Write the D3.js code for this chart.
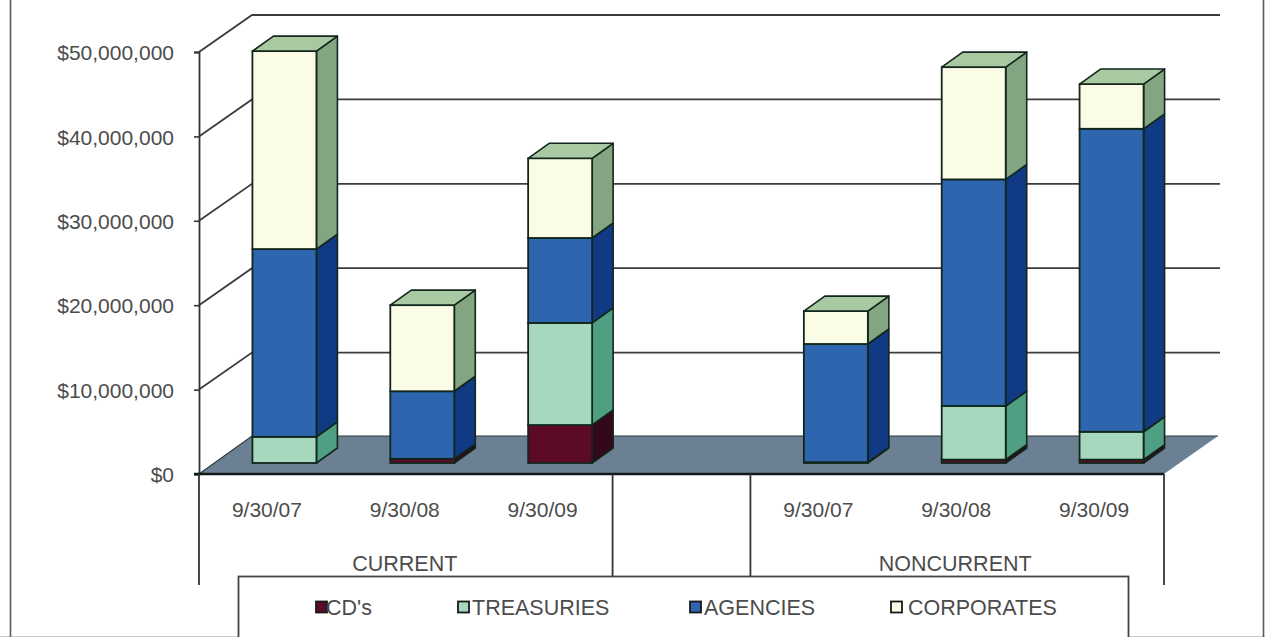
<!DOCTYPE html>
<html>
<head>
<meta charset="utf-8">
<script src="https://cdn.jsdelivr.net/npm/d3@7/dist/d3.min.js"></script>
<style>
  html, body { margin: 0; padding: 0; background: #fff; }
  svg { display: block; }
  text { font-family: "Liberation Sans", Arial, sans-serif; fill: #4c4c4c; }
</style>
</head>
<body>
<svg id="chart" width="1265" height="637"></svg>
<script>
// Holdings in dollars, stacked bottom to top within each group and date.
const groups = ["CURRENT", "NONCURRENT"];
const dates = ["9/30/07", "9/30/08", "9/30/09"];
const seriesNames = ["CD's", "TREASURIES", "AGENCIES", "CORPORATES"];
const cds        = [0,        500000,  4500000,  100000,   400000,   400000];
const treasuries = [3100000,  0,       12100000, 0,        6350000,  3300000];
const agencies   = [22250000, 8000000, 10060000, 14000000, 26850000, 35900000];
const corporates = [23450000, 10200000, 9440000, 3900000,  13300000, 5300000];
const yTicks = [0, 10000000, 20000000, 30000000, 40000000, 50000000];

const frontColors = ["#5c0a26", "#a6d8bd", "#2d66ae", "#fbfce6"];
const sideColors  = ["#33081a", "#4f9f82", "#113a84", "#84a581"];
const topColors   = ["#3c0a1c", "#7fbf9f", "#1f4f98", "#a9c9a3"];
const floorColor = "#6b8092";
const ink = "#12261c";

const svg = d3.select("#chart");

// Plot frame: front plane of the 3-D box and the shift to its back wall.
const plotLeft = 199, plotRight = 1164, plotTop = 52, plotBottom = 474;
const depthX = 53, gridDepthY = 37, floorDepthY = 38;
const barDepthX = 21, barDepthY = 15;
const barShiftX = 16.5, barShiftY = 11, barWidth = 64;

const y = d3.scaleLinear().domain([0, 50000000]).range([plotBottom, plotTop]);
const slots = d3.range(7);
const x = d3.scaleBand().domain(slots).range([plotLeft, plotRight]);

// Outer page rules
svg.append("path").attr("d", "M0,636.5H1265").attr("stroke", "#ccc").attr("stroke-width", 1);
svg.append("path").attr("d", "M10.5,0V637M1263.5,0V637")
  .attr("fill", "none").attr("stroke", "#5a5a5a").attr("stroke-width", 1.6);

// Back wall gridlines and their slanted side-wall segments
const grid = svg.append("g").attr("fill", "none").attr("stroke", "#3c3c3c").attr("stroke-width", 1.8);
grid.selectAll("path").data(yTicks.slice(1)).join("path")
  .attr("d", d => `M${plotLeft},${y(d)}L${plotLeft + depthX},${y(d) - gridDepthY}H${plotRight + 56}`);

// Floor
svg.append("path")
  .attr("d", `M${plotLeft},${plotBottom}L${plotLeft + depthX},${plotBottom - floorDepthY}H${plotRight + 54}L${plotRight},${plotBottom}Z`)
  .attr("fill", floorColor);
svg.append("path")
  .attr("d", `M${plotLeft},${plotBottom}L${plotLeft + depthX},${plotBottom - floorDepthY}H${plotRight + 54}`)
  .attr("fill", "none").attr("stroke", "#2f3a40").attr("stroke-width", 1.2);

// Stacked 3-D bars
const barSlots = [0, 1, 2, 4, 5, 6];
const seriesValues = [cds, treasuries, agencies, corporates];
const stacks = barSlots.map((slot, i) => {
  let running = 0;
  const segments = [];
  seriesValues.forEach((vals, s) => {
    if (vals[i] > 0) {
      segments.push({ s, y0: running, y1: running + vals[i] });
      running += vals[i];
    }
  });
  return { slot, segments };
});

const bars = svg.append("g").selectAll("g").data(stacks).join("g");
bars.each(function (stack) {
  const g = d3.select(this);
  const x0 = x(stack.slot) + x.bandwidth() / 2 + barShiftX - barWidth / 2;
  const x1 = x0 + barWidth;
  stack.segments.forEach(seg => {
    const yb = y(seg.y0) - barShiftY;
    const yt = y(seg.y1) - barShiftY;
    g.append("path")
      .attr("d", `M${x1},${yb}L${x1 + barDepthX},${yb - barDepthY}V${yt - barDepthY}L${x1},${yt}Z`)
      .attr("fill", sideColors[seg.s]).attr("stroke", ink).attr("stroke-width", 1.6)
      .attr("stroke-linejoin", "round");
    g.append("rect")
      .attr("x", x0).attr("y", yt).attr("width", barWidth).attr("height", yb - yt)
      .attr("fill", frontColors[seg.s]).attr("stroke", ink).attr("stroke-width", 1.8);
  });
  const last = stack.segments[stack.segments.length - 1];
  const yt = y(last.y1) - barShiftY;
  g.append("path")
    .attr("d", `M${x0},${yt}L${x0 + barDepthX},${yt - barDepthY}H${x1 + barDepthX}L${x1},${yt}Z`)
    .attr("fill", topColors[last.s]).attr("stroke", ink).attr("stroke-width", 1.6)
    .attr("stroke-linejoin", "round");
});

// Value axis
const yAxis = d3.axisLeft(y).tickValues(yTicks).tickSize(5).tickPadding(20)
  .tickFormat(d3.format("$,.0f"));
const yG = svg.append("g").attr("transform", `translate(${plotLeft},0)`).call(yAxis);
yG.selectAll("text").attr("font-size", 21).attr("dy", "0.37em")
  .style("font-family", '"Liberation Sans", Arial, sans-serif').style("fill", "#4c4c4c");
yG.selectAll("line").attr("stroke", "#333").attr("stroke-width", 1.6);
yG.select(".domain").attr("stroke", "#333").attr("stroke-width", 1.8);

// Baseline and multi-level category dividers
svg.append("line").attr("x1", plotLeft - 5).attr("x2", plotRight).attr("y1", plotBottom).attr("y2", plotBottom)
  .attr("stroke", "#14181a").attr("stroke-width", 2.4);
const dividers = svg.append("g").attr("stroke", "#333").attr("stroke-width", 1.8);
[[x(0), 585], [x(3), 576], [x(4), 576], [plotRight, 585]].forEach(([px, end]) => {
  dividers.append("line").attr("x1", px).attr("x2", px).attr("y1", plotBottom).attr("y2", end);
});

// Date labels under each bar slot
const dateLabels = barSlots.map(slot => ({ slot, label: dates[slot > 3 ? slot - 4 : slot] }));
svg.append("g").selectAll("text").data(dateLabels).join("text")
  .attr("x", d => x(d.slot) + x.bandwidth() / 2 - 1)
  .attr("y", 517).attr("text-anchor", "middle").attr("font-size", 21)
  .text(d => d.label);

// Legend box goes in before the group names, which sit on its top edge
svg.append("rect").attr("x", 238.5).attr("y", 576.5).attr("width", 890).attr("height", 70)
  .attr("fill", "#fff").attr("stroke", "#444").attr("stroke-width", 1.8);

const groupCentres = [(x(0) + x(2) + x.bandwidth()) / 2 - 1, (x(4) + x(6) + x.bandwidth()) / 2 - 2];
svg.append("g").selectAll("text").data(groups).join("text")
  .attr("x", (d, i) => groupCentres[i]).attr("y", 571)
  .attr("text-anchor", "middle").attr("font-size", 21.5)
  .text(d => d);

// Legend entries
const legendX = [316, 458, 690, 891];
const legendLabelX = [326, 472, 704, 908];
const legend = svg.append("g").selectAll("g").data(seriesNames).join("g")
  .attr("transform", (d, i) => `translate(${legendX[i]},607)`);
legend.append("rect").attr("x", 0).attr("y", -5.5).attr("width", 11).attr("height", 11)
  .attr("fill", (d, i) => frontColors[i]).attr("stroke", "#1a1a1a").attr("stroke-width", 1.8);
legend.append("text").attr("x", (d, i) => legendLabelX[i] - legendX[i]).attr("y", 7.5)
  .attr("font-size", 21.5).text(d => d);
</script>
</body>
</html>
